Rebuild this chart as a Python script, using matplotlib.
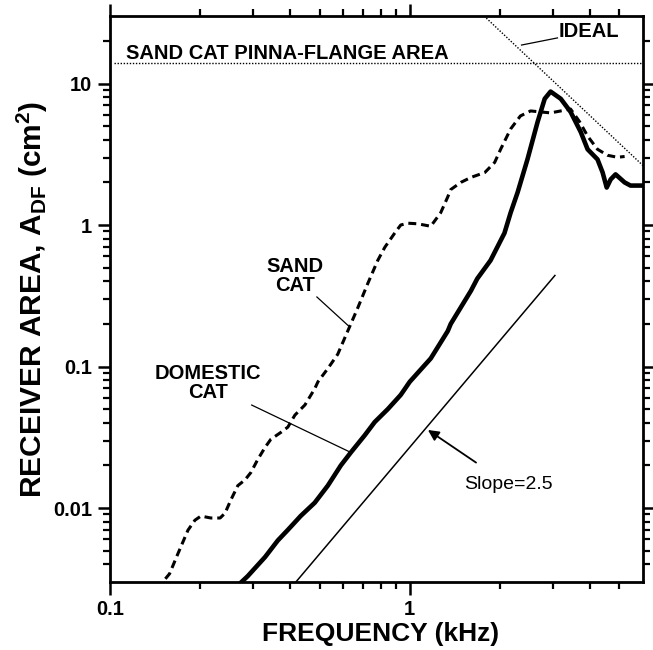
import matplotlib
matplotlib.use("Agg")
import matplotlib.pyplot as plt
from matplotlib.ticker import FixedLocator, FixedFormatter, NullFormatter

plt.rcParams['font.family'] = ['Liberation Sans', 'DejaVu Sans']
plt.rcParams['mathtext.fontset'] = 'custom'
plt.rcParams['mathtext.rm'] = 'Liberation Sans:bold'
plt.rcParams['mathtext.bf'] = 'Liberation Sans:bold'
plt.rcParams['mathtext.default'] = 'rm'

# ---------------- data ----------------
domestic_f = [0.27, 0.288, 0.329, 0.363, 0.392, 0.433, 0.482, 0.533, 0.589, 0.636,
              0.708, 0.764, 0.845, 0.933, 1.0, 1.175, 1.339, 1.37, 1.6, 1.68,
              1.86, 2.07, 2.17, 2.29, 2.47, 2.67, 2.82, 2.95, 3.19, 3.44,
              3.72, 3.92, 4.23, 4.4, 4.54, 4.68, 4.86, 5.21, 5.45, 6.0]
domestic_A = [0.0029, 0.0033, 0.0045, 0.0059, 0.0070, 0.0088, 0.0109, 0.0144, 0.020, 0.0247,
              0.0327, 0.0405, 0.050, 0.063, 0.078, 0.114, 0.178, 0.20, 0.343, 0.418,
              0.562, 0.877, 1.22, 1.70, 2.91, 5.35, 7.8, 8.77, 7.8, 6.3,
              4.54, 3.43, 2.91, 2.35, 1.84, 2.10, 2.28, 2.0, 1.9, 1.9]

sand_f = [0.153, 0.158, 0.1686, 0.182, 0.192, 0.201, 0.217, 0.233, 0.242, 0.253,
          0.267, 0.282, 0.295, 0.311, 0.329, 0.344, 0.372, 0.392, 0.414, 0.447,
          0.482, 0.494, 0.533, 0.575, 0.621, 0.671, 0.724, 0.782, 0.826, 0.891,
          0.933, 0.985, 1.063, 1.175, 1.268, 1.339, 1.37, 1.48, 1.6, 1.78,
          1.92, 2.01, 2.17, 2.34, 2.53, 2.73, 2.95, 3.19, 3.44, 3.69,
          3.92, 4.23, 4.57, 4.93, 5.21]
sand_A = [0.00316, 0.00343, 0.00477, 0.00697, 0.0082, 0.00877, 0.0085, 0.0085, 0.0092, 0.0114,
          0.0144, 0.0158, 0.0178, 0.022, 0.0268, 0.0306, 0.0343, 0.0373, 0.0454, 0.0535,
          0.0697, 0.078, 0.0968, 0.122, 0.178, 0.26, 0.385, 0.562, 0.697, 0.877,
          1.0, 1.03, 1.02, 0.98, 1.22, 1.58, 1.78, 2.0, 2.17, 2.35,
          2.77, 3.43, 4.77, 5.9, 6.4, 6.3, 6.2, 6.4, 6.6, 5.35,
          4.25, 3.43, 3.11, 3.01, 3.05]

ideal_f = [1.77, 6.0]
ideal_A = [30.0, 2.63]

flange_f = [0.103, 5.9]
flange_A = [14.0, 14.0]

slope_f = [0.417, 3.05]
slope_A = [0.003, 0.44]

x_ticks = [0.1, 1]
x_ticklabels = ['0.1', '1']
x_minor = [0.2, 0.3, 0.4, 0.5, 0.6, 0.7, 0.8, 0.9, 2, 3, 4, 5]
y_ticks = [0.01, 0.1, 1, 10]
y_ticklabels = ['0.01', '0.1', '1', '10']
y_minor = [0.004, 0.005, 0.006, 0.007, 0.008, 0.009,
           0.02, 0.03, 0.04, 0.05, 0.06, 0.07, 0.08, 0.09,
           0.2, 0.3, 0.4, 0.5, 0.6, 0.7, 0.8, 0.9,
           2, 3, 4, 5, 6, 7, 8, 9, 20]

# ---------------- figure ----------------
fig = plt.figure(figsize=(6.53, 6.50), dpi=100)
ax = fig.add_axes([110/653, 1-582/650, 533/653, 566/650])
ax.set_xscale('log')
ax.set_yscale('log')
ax.set_xlim(0.1, 6.0)
ax.set_ylim(0.003, 30)

ax.plot(domestic_f, domestic_A, color='black', lw=3.3, solid_capstyle='round',
        solid_joinstyle='round')
ax.plot(sand_f, sand_A, color='black', lw=2.2, linestyle=(0, (2.6, 1.6)))
ax.plot(ideal_f, ideal_A, color='black', lw=1.0, linestyle=(0, (1, 1.2)))
ax.plot(flange_f, flange_A, color='black', lw=1.0, linestyle=(0, (1, 1.2)))
ax.plot(slope_f, slope_A, color='black', lw=1.1)

# ticks
ax.xaxis.set_major_locator(FixedLocator(x_ticks))
ax.xaxis.set_major_formatter(FixedFormatter(x_ticklabels))
ax.xaxis.set_minor_locator(FixedLocator(x_minor))
ax.xaxis.set_minor_formatter(NullFormatter())
ax.yaxis.set_major_locator(FixedLocator(y_ticks))
ax.yaxis.set_major_formatter(FixedFormatter(y_ticklabels))
ax.yaxis.set_minor_locator(FixedLocator(y_minor))
ax.yaxis.set_minor_formatter(NullFormatter())
ax.tick_params(which='both', direction='out', top=True, right=True,
               bottom=True, left=True, color='black')
ax.tick_params(which='major', length=9, width=1.8, labelsize=14.5, pad=4)
ax.tick_params(which='minor', length=5, width=1.6)
for lab in ax.get_xticklabels() + ax.get_yticklabels():
    lab.set_fontweight('bold')
for sp in ax.spines.values():
    sp.set_linewidth(2.0)

ax.set_xlabel('FREQUENCY (kHz)', fontsize=19, fontweight='bold')
ax.set_ylabel(r'RECEIVER AREA, A$_{\mathrm{DF}}$ (cm$^{\mathrm{2}}$)', fontsize=21.5,
              fontweight='bold')
ax.xaxis.set_label_coords(0.507, -0.071)
ax.yaxis.set_label_coords(-0.113, 0.5)

# annotations
ax.text(0.113, 15.0, 'SAND CAT PINNA-FLANGE AREA', fontsize=14.5, fontweight='bold',
        ha='left', va='baseline')
ax.text(3.95, 23.5, 'IDEAL', fontsize=14.5, fontweight='bold', ha='center', va='center')
ax.plot([2.36, 3.11], [18.7, 21.0], color='black', lw=0.9)

ax.text(0.414, 0.436, 'SAND\nCAT', fontsize=14.5, fontweight='bold', ha='center',
        va='center', linespacing=0.95)
ax.plot([0.49, 0.631], [0.31, 0.19], color='black', lw=0.9)

ax.text(0.212, 0.0764, 'DOMESTIC\nCAT', fontsize=14.5, fontweight='bold', ha='center',
        va='center', linespacing=0.95)
ax.plot([0.297, 0.631], [0.0534, 0.0249], color='black', lw=0.9)

ax.annotate('Slope=2.5', xy=(1.15, 0.0356), xytext=(2.14, 0.0146), fontsize=14,
            ha='center', va='center',
            arrowprops=dict(arrowstyle='-|>', color='black', lw=1.3,
                            mutation_scale=16, shrinkA=14, shrinkB=0))

fig.savefig('out.png', dpi=100)
